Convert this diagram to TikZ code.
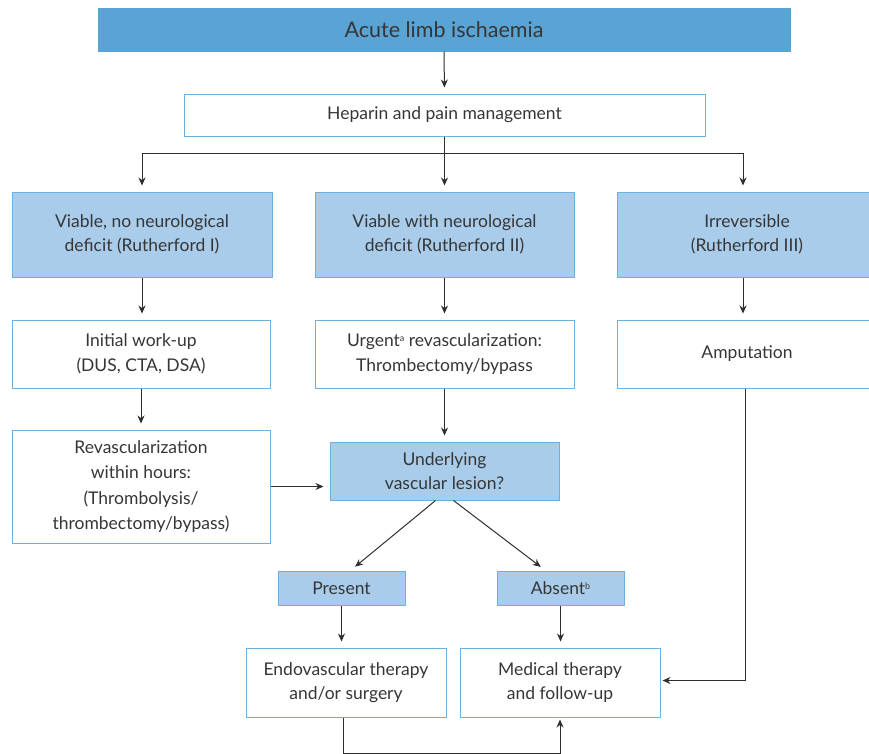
\documentclass[tikz,border=0pt]{standalone}
\usepackage{fontspec}
\setmainfont{Lato}
\usetikzlibrary{arrows.meta,calc}
\definecolor{darkb}{HTML}{5AA3D5}
\definecolor{lightb}{HTML}{A9CCEA}
\definecolor{bordc}{HTML}{6DB0DD}
\definecolor{txt}{HTML}{363636}
\definecolor{arrc}{HTML}{2E2E2E}
\tikzset{
  base/.style={draw=bordc, line width=1pt, align=center, text=txt, inner sep=2pt,
    font=\fontsize{17.5}{24.5}\selectfont},
  wbox/.style={base, fill=white},
  lbox/.style={base, fill=lightb},
  arr/.style={-{Stealth[length=8pt,width=7pt]}, line width=1pt, draw=arrc, shorten >=6pt}
}
\begin{document}
\begin{tikzpicture}[x=1pt,y=-1pt]
\useasboundingbox (0,0) rectangle (869,753);
\node[base, fill=darkb, draw=darkb, minimum width=692, minimum height=43,
  font=\fontsize{21.5}{24}\selectfont] (acute) at (444,29.5) {Acute limb ischaemia};
\node[wbox, minimum width=521, minimum height=42, font=\fontsize{17.5}{22}\selectfont] (hep) at (444.5,115) {Heparin and pain management};
\node[lbox, minimum width=260, minimum height=85] (v1) at (142,234.5) {Viable, no neurological\\deficit (Rutherford I)};
\node[lbox, minimum width=259, minimum height=85] (v2) at (444.5,234.5) {Viable with neurological\\deficit (Rutherford II)};
\node[lbox, minimum width=260, minimum height=85] (v3) at (747,234.5) {Irreversible\\(Rutherford III)};
\node[wbox, minimum width=258, minimum height=68] (init) at (141,354) {Initial work-up\\(DUS, CTA, DSA)};
\node[wbox, minimum width=259, minimum height=68] (urg) at (444.5,354) {Urgent{\fontsize{9}{10}\selectfont\raisebox{5pt}{a}} revascularization:\\Thrombectomy/bypass};
\node[wbox, minimum width=260, minimum height=68] (amp) at (747,354) {Amputation};
\node[wbox, minimum width=258, minimum height=113, font=\fontsize{17.5}{25.5}\selectfont] (rev) at (141,486.5) {Revascularization\\within hours:\\(Thrombolysis/\\thrombectomy/bypass)};
\node[lbox, minimum width=229, minimum height=58] (und) at (444.5,471) {Underlying\\vascular lesion?};
\node[lbox, minimum width=127, minimum height=34] (pres) at (341.5,588) {Present};
\node[lbox, minimum width=127, minimum height=34] (abs) at (560.5,588) {Absent{\fontsize{9}{10}\selectfont\raisebox{5pt}{b}}};
\node[wbox, minimum width=200, minimum height=69] (endo) at (346,682.5) {Endovascular therapy\\and/or surgery};
\node[wbox, minimum width=200, minimum height=69] (med) at (560,682.5) {Medical therapy\\and follow-up};
% connectors
\draw[arr] (acute.south) -- (hep.north);
\draw[arr] (hep.south) -- ++(0,17) -| (v1.north);
\draw[arr] (hep.south) -- (v2.north);
\draw[arr] (hep.south) -- ++(0,17) -| ([xshift=-4pt]v3.north);
\draw[arr] (v1.south) -- (v1.south |- init.north);
\draw[arr] (v2.south) -- (urg.north);
\draw[arr] ([xshift=-4pt]v3.south) -- ([xshift=-4pt]amp.north);
\draw[arr] (init.south) -- (init.south |- rev.north);
\draw[arr] (urg.south) -- (urg.south |- und.north);
\draw[arr] (rev.east) -- (rev.east -| und.west);
\draw[arr] ([xshift=-9pt]und.south) -- ([xshift=9pt]pres.north);
\draw[arr] ([xshift=9pt]und.south) -- ([xshift=-15pt]abs.north);
\draw[arr] (pres.south) -- (pres.south |- endo.north);
\draw[arr] (abs.south) -- (abs.south |- med.north);
\draw[arr, shorten >=2pt] ([xshift=-2pt]amp.south) |- ([yshift=2pt]med.east);
\draw[arr, shorten >=2pt] ([xshift=-3pt]endo.south) -- ++(0,35.5) -| (med.south);
\end{tikzpicture}
\end{document}
